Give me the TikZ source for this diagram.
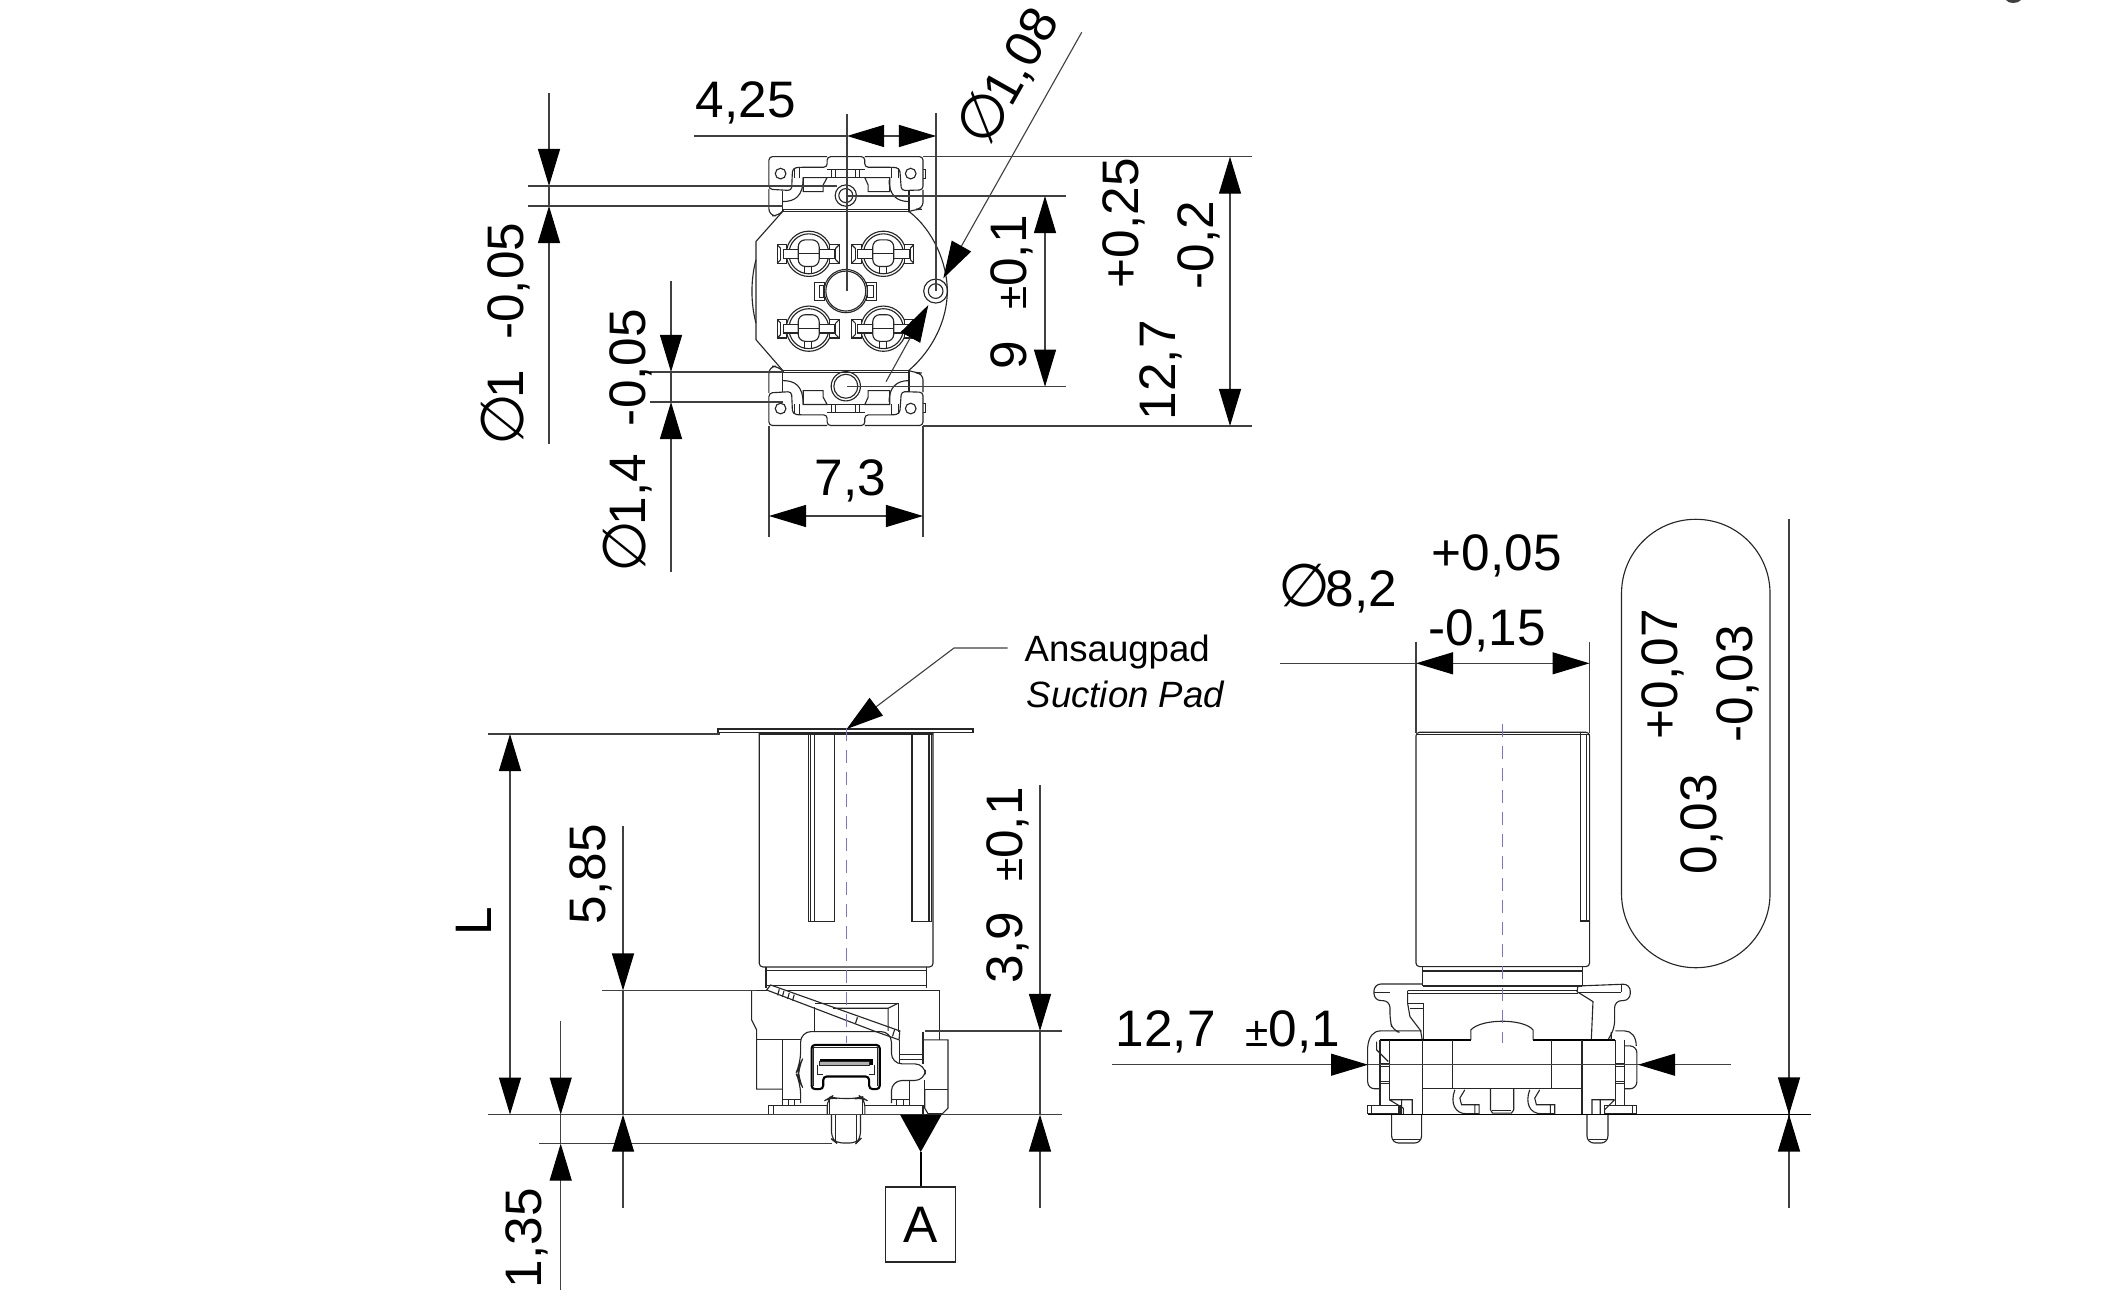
\documentclass[tikz,border=0pt]{standalone}
\usepackage{fontspec}
\setmainfont{Liberation Sans}
\newfontfamily\diafont{DejaVu Sans}
\usetikzlibrary{arrows.meta}
\newcommand{\dia}{\makebox[12.2pt]{\diafont\fontsize{17}{17}\selectfont ∅}}
\newcommand{\tolsign}{{\fontsize{12}{12}\selectfont ±}}
\newcommand{\gapx}[1]{\hspace{#1cm}}

\tikzset{
  >={Triangle[length=3.7mm,width=2.2mm,color=black,fill=black]},
  partline/.style={line width=0.32pt,black!85},
  dimline/.style={line width=0.32pt,black!75},
  dimtext/.style={inner sep=0pt,anchor=base west,font=\fontsize{14.6}{17}\selectfont},
  dimup/.style={dimtext,rotate=90},
  notetext/.style={inner sep=0pt,anchor=base west,font=\fontsize{10.4}{12}\selectfont},
  centerline/.style={line width=0.32pt,color={rgb,255:red,125;green,115;blue,200},dash pattern=on 1.3mm off 0.9mm},
  zoomed/.style={x=0.003333cm,y=-0.003333cm}
}

% one end of the top view, written from the middle line outwards
\newcommand{\clipend}{
\draw[partline,rounded corners=1pt] (322,80) -- (147,80) -- (147,178) -- (215,182) -- (218,115) -- (238,112) -- (322,112) -- (322,80) -- (435,80) -- (435,112) -- (520,112) -- (540,115) -- (545,182) -- (610,180) -- (610,80) -- (435,80);
\draw[partline] (322,118) -- (435,118);
\draw[partline] (335,118) -- (335,143) (348,118) -- (348,143) (408,118) -- (408,143) (420,118) -- (420,143);
\draw[partline] (250,143) -- (322,143) -- (310,165) -- (310,185) -- (250,185) -- cycle;
\draw[partline] (510,143) -- (435,143) -- (445,165) -- (445,185) -- (510,185) -- cycle;
\draw[partline] (322,143) -- (435,143);
\draw[partline] (188,215) .. controls (225,215) and (250,200) .. (250,143);
\draw[partline] (568,215) .. controls (530,215) and (508,195) .. (508,150);
\draw[partline] (225,115) -- (225,145) (240,115) -- (240,145) (515,115) -- (515,145) (535,115) -- (535,145);
\draw[partline,rounded corners=2pt] (147,178) -- (147,258) -- (178,258) -- (188,245);
\draw[partline] (188,182) -- (188,245) (568,182) -- (568,245);
\draw[partline,rounded corners=2pt] (610,180) -- (610,238) -- (585,238) -- (568,245);
\draw[partline] (188,240) -- (568,240) (188,245) -- (568,245);
\draw[partline] (182,131) circle[radius=16] (573,131) circle[radius=16];
\draw[partline] (610,118) -- (618,118) -- (618,145) -- (610,145);
}

\newcommand{\contactpad}{
\draw[partline] (0,0) circle[radius=68] (0,0) circle[radius=60];
\draw[partline,fill=white] (-95,-27) rectangle (-67,28) (63,-27) rectangle (91,28);
\draw[partline] (-95,-27) -- (-85,-17) (-95,28) -- (-85,18) (91,-27) -- (81,-17) (91,28) -- (81,18);
\draw[partline] (-85,-17) -- (-85,18) (81,-17) -- (81,18);
\draw[partline,fill=white] (-77,-12) rectangle (-32,13) (31,-12) rectangle (78,13);
\draw[partline,fill=white,rounded corners=2pt] (-32,-42) rectangle (31,38);
\draw[partline] (-32,0) -- (31,0) (-12,38) -- (-12,62) (8,38) -- (8,62);
}

\begin{document}
\begin{tikzpicture}[x=0.01cm,y=-0.01cm]
\useasboundingbox (0,0) rectangle (2119,1300);
\fill[black!75] (2006,0) .. controls (2008,4) and (2018,4) .. (2021,0) -- cycle;

% top view
\begin{scope}[shift={(720,130)},zoomed]
\foreach \flipy in {1,-1} {
  \begin{scope}[shift={(0,484)},yscale=\flipy,shift={(0,-484)}]
  \clipend
  \end{scope}
}
\draw[partline] (188,245) -- (108,335) -- (108,630) -- (188,722);
\draw[partline] (108,390) .. controls (92,450) and (92,520) .. (108,580);
\draw[partline] (568,245) .. controls (640,300) and (683,400) .. (683,484) .. controls (683,570) and (640,660) .. (568,722);
\foreach \padx/\pady in {267/372,491/372,267/597,491/597} {
  \begin{scope}[shift={(\padx,\pady)}]
  \contactpad
  \end{scope}
}
\draw[partline,fill=white] (285,458) rectangle (315,512) (298,468) rectangle (312,502);
\draw[partline,fill=white] (440,458) rectangle (470,512) (442,468) rectangle (460,502);
\draw[partline,fill=white] (378,484) circle[radius=65];
\draw[partline] (378,484) circle[radius=60];
\draw[partline] (378,197) circle[radius=32] (378,197) circle[radius=21];
\draw[partline] (378,770) circle[radius=44] (378,770) circle[radius=36];
\draw[partline] (648,484) circle[radius=36] (648,484) circle[radius=22];
\end{scope}

% dimensions of the top view
\draw[dimline] (528,186) -- (837,186);
\draw[dimline] (528,206) -- (783,206);
\draw[dimline,->] (549,93) -- (549,186);
\draw[dimline,->] (549,444) -- (549,206);
\draw[dimline] (549,186) -- (549,206);
\node[dimup] (diahole) at (523,442) {\dia1\gapx{0.30}-0,05};

\draw[dimline] (650,372) -- (783,372);
\draw[dimline] (650,402) -- (783,402);
\draw[dimline,->] (671,281) -- (671,372);
\draw[dimline,->] (671,572) -- (671,402);
\draw[dimline] (671,372) -- (671,402);
\node[dimup] (diapin) at (645,569) {\dia1,4\gapx{0.28}-0,05};

\draw[dimline] (847,114) -- (847,291);
\draw[dimline] (936,113) -- (936,291);
\draw[dimline] (694,136) -- (847,136);
\draw[dimline] (884,136) -- (899,136);
\draw[dimline,->] (884,136) -- (847,136);
\draw[dimline,->] (899,136) -- (936,136);
\node[dimtext] (pitchx) at (695,118) {4,25};

\draw[dimline] (769,426) -- (769,537);
\draw[dimline] (923,426) -- (923,537);
\draw[dimline,<->] (769,516) -- (923,516);
\node[dimtext] (widthtop) at (814,495.5) {7,3};

\draw[dimline,->] (1081.7,32.3) -- (943.3,278.3);
\draw[dimline,->] (886,381.7) -- (928.3,305);
\node[dimtext,rotate=60.6] (diaside) at (990,146) {\dia1,08};

\draw[dimline] (847,196) -- (1066,196);
\draw[dimline] (847,386.7) -- (1066,386.7);
\draw[dimline,<->] (1045,196) -- (1045,386.7);
\node[dimup] (pitchy) at (1026.7,370) {9\gapx{0.31}\tolsign0,1};

\draw[dimline] (923,156.7) -- (1251.7,156.7);
\draw[dimline] (923,426) -- (1251.7,426);
\draw[dimline,<->] (1230,156.7) -- (1230,426);
\node[dimup] (lengthtop) at (1175,421) {12,7};
\node[dimup] (tolplus) at (1138,289) {+0,25};
\node[dimup] (tolminus) at (1213,290) {-0,2};

% side view
\begin{scope}[shift={(720,720)},zoomed]
\draw[partline] (-6,27) rectangle (760,38);
\draw[partline,rounded corners=1pt] (118,38) -- (118,742) -- (640,742) -- (640,38);
\draw[partline] (118,42) -- (640,42);
\draw[partline] (265,42) -- (265,605) -- (345,605) -- (345,42);
\draw[partline] (272,42) -- (272,605) (285,42) -- (285,605);
\draw[partline] (577,42) -- (577,605) -- (635,605) -- (635,42);
\draw[partline] (628,42) -- (628,605);
\draw[partline] (138,742) -- (138,805) (620,742) -- (620,805);
\draw[partline] (138,753) -- (620,753);
\draw[partline] (138,798) -- (620,798);
\end{scope}
\begin{scope}[shift={(740,960)},zoomed]
\draw[partline] (35,92) -- (600,92) -- (600,240);
\draw[partline] (35,92) -- (35,180) -- (50,210) -- (50,388) -- (128,388);
\draw[partline] (50,240) -- (182,240);
\draw[partline] (128,240) -- (128,438);
\draw[partline,fill=white] (92,75) -- (480,213) -- (478,240) -- (402,213) -- (80,90) -- cycle;
\draw[partline] (118,88) -- (113,106) (132,93) -- (127,111) (148,99) -- (143,117) (163,104) -- (158,122) (353,172) -- (347,190) (465,208) -- (458,230);
\draw[partline] (225,142) -- (225,215) (225,130) -- (475,130) -- (475,215);
\draw[partline] (280,145) -- (445,145) -- (445,213) (445,145) -- (475,130);
\draw[partline,rounded corners=3pt] (182,430) -- (182,370) -- (175,355) -- (175,325) -- (182,310) -- (182,215) -- (455,215) -- (455,312) -- (557,312) -- (557,362) -- (455,362) -- (455,430);
\draw[partline] (480,240) -- (480,312) (550,215) -- (550,312);
\draw[partline] (550,240) -- (625,240) -- (625,445) -- (608,462) -- (565,462) -- (555,445) -- (555,388);
\draw[partline] (480,283) -- (550,283) (480,300) -- (550,300);
\draw[partline] (555,362) -- (555,388) (508,362) -- (508,438) (555,388) -- (625,388);
\draw[line width=0.6pt,rounded corners=1pt] (215,255) -- (420,255) -- (420,388) -- (388,388) -- (388,350) -- (250,350) -- (250,388) -- (215,388) -- cycle;
\draw[partline] (222,262) -- (412,262) -- (412,380) (222,262) -- (222,380);
\draw[line width=0.6pt] (240,302) -- (395,302) -- (395,315);
\draw[partline,fill=black!30] (240,306) -- (388,306) -- (388,316) -- (240,316) -- cycle;
\draw[partline] (232,314) -- (232,345) -- (250,345) (240,302) -- (240,314) (405,314) -- (405,345) -- (388,345);
\draw[partline] (130,418) -- (182,418) (145,418) -- (145,438) (165,418) -- (165,438);
\draw[partline] (455,418) -- (508,418) (470,418) -- (470,438) (490,418) -- (490,438);
\draw[partline] (85,438) -- (550,438) -- (550,463) (85,438) -- (85,463) (100,438) -- (100,463);
\draw[partline,fill=white,rounded corners=2pt] (262,463) -- (262,418) -- (272,412) -- (290,416) -- (350,416) -- (365,412) -- (375,418) -- (375,463);
\draw[partline,rounded corners=2pt] (275,463) -- (275,538) -- (290,550) -- (350,550) -- (362,538) -- (362,463);
\draw[partline] (288,463) -- (288,545) (350,463) -- (350,545) (270,463) -- (270,420) (368,463) -- (368,420);
\end{scope}
\draw[centerline] (846.7,728) -- (846.7,1043);

% dimensions of the side view
\draw[dimline] (488,734) -- (720,734);
\draw[dimline] (488,1114.6) -- (1062,1114.6);
\draw[dimline] (539,1143.6) -- (832,1143.6);
\draw[dimline] (602,990.5) -- (756,990.5);
\draw[dimline] (925,1031) -- (1062,1031);

\draw[dimline,<->] (510,734) -- (510,1114.6);
\node[dimup] (lengthL) at (491.7,936) {L};

\draw[dimline,->] (623,826) -- (623,990.5);
\draw[dimline] (623,990.5) -- (623,1114.6);
\draw[dimline,->] (623,1208) -- (623,1114.6);
\node[dimup] (heightflange) at (605,925) {5,85};

\draw[dimline,->] (560.7,1021) -- (560.7,1114.6);
\draw[dimline] (560.7,1114.6) -- (560.7,1143.6);
\draw[dimline,->] (560.7,1290) -- (560.7,1143.6);
\node[dimup] (pinlength) at (541.7,1289) {1,35};

\draw[dimline,->] (1040,785) -- (1040,1031);
\draw[dimline] (1040,1031) -- (1040,1114.6);
\draw[dimline,->] (1040,1208) -- (1040,1114.6);
\node[dimup] (heightbase) at (1022,984) {3,9\gapx{0.30}\tolsign0,1};

\node[notetext] (padde) at (1024,661) {Ansaugpad};
\node[notetext,font=\fontsize{10.4}{12}\selectfont\itshape] (paden) at (1026,707) {Suction Pad};
\coordinate (padleadstart) at (1007.7,648);
\coordinate (padleadknee) at (954,648);
\coordinate (padleadend) at (846.7,729);
\draw[dimline,->] (padleadstart) -- (padleadknee) -- (padleadend);

\node[draw,partline,text=black,minimum width=0.7cm,minimum height=0.75cm,inner sep=0pt,font=\fontsize{14.6}{17}\selectfont] (datumA) at (920.7,1224.5) {A};
\coordinate (datumtip) at (920.7,1152);
\fill (900,1114.6) -- (941.7,1114.6) -- (datumtip) -- cycle;
\draw[line width=0.5pt] (datumA.north) -- (datumtip);

% end view
\begin{scope}[shift={(1260,500)},x=0.003831cm,y=-0.003333cm]
\draw[partline,rounded corners=1pt] (407,698) -- (860,698) -- (860,1402) -- (407,1402) -- cycle;
\draw[partline] (407,704) -- (860,704);
\draw[partline] (836,698) -- (836,1265) -- (860,1265) (852,704) -- (852,1265);
\end{scope}
\begin{scope}[shift={(1360,960)},zoomed]
\draw[partline] (188,20) -- (188,78) (668,20) -- (668,78);
\draw[partline] (188,33) -- (668,33);
\draw[partline] (188,78) -- (668,78);
\draw[partline] (145,92) -- (655,92) (145,100) -- (655,100);
\draw[partline,rounded corners=2pt] (188,72) -- (42,72) -- (42,122) -- (90,122) -- (90,180) -- (98,212) -- (110,215);
\draw[partline] (42,97) -- (90,97);
\draw[partline] (143,92) -- (143,130) -- (150,170) -- (182,212) -- (187,240);
\draw[partline] (143,130) -- (192,130) -- (192,240) (150,145) -- (192,145);
\draw[partline,rounded corners=2pt] (655,78) -- (812,72) -- (812,122) -- (765,122) -- (765,205) -- (745,240);
\draw[partline] (655,78) -- (652,95) -- (700,125) -- (695,240);
\draw[partline] (655,97) -- (785,97) (785,72) -- (785,97);
\draw[line width=0.55pt] (60,240) -- (333,240) (520,240) -- (765,240);
\draw[partline] (333,240) -- (333,210) .. controls (350,192) and (390,184) .. (428,184) .. controls (465,184) and (505,192) .. (520,210) -- (520,240);
\draw[partline] (187,240) -- (187,462) (278,240) -- (278,387) (575,240) -- (575,387) (667,240) -- (667,462) (88,240) -- (88,420);
\draw[partline] (187,387) -- (667,387);
\draw[partline,rounded corners=2pt] (60,387) -- (23,387) -- (23,262);
\draw[partline] (23,262) .. controls (26,230) and (40,213) .. (62,213) -- (185,213);
\draw[partline] (50,245) -- (50,270) -- (85,305);
\draw[partline] (60,240) -- (60,438);
\draw[partline] (60,310) -- (88,310) (60,320) -- (88,320) (60,365) -- (88,365) (60,372) -- (88,372);
\draw[partline] (767,310) -- (795,310) (767,320) -- (795,320) (767,365) -- (795,365) (767,372) -- (795,372);
\draw[partline] (767,240) -- (767,438) (795,240) -- (795,438);
\draw[partline] (755,217) -- (755,240) (767,213) -- (795,213) .. controls (815,213) and (830,230) .. (830,258);
\draw[partline,rounded corners=2pt] (795,258) -- (832,258) -- (832,387) -- (795,387);
\draw[partline] (22,438) rectangle (120,462) (115,438) -- (115,462) (130,445) -- (130,462) (35,438) -- (35,462);
\draw[partline] (735,438) rectangle (832,462) (820,438) -- (820,462);
\draw[partline] (88,420) -- (157,420) -- (157,462) (125,420) -- (125,462) (88,420) -- (130,445);
\draw[partline] (765,420) -- (697,420) -- (697,462) (722,420) -- (722,462) (765,420) -- (735,450) -- (735,462);
\draw[partline,rounded corners=2pt] (95,463) -- (95,550) -- (185,550) -- (185,463);
\draw[partline] (100,540) -- (180,540);
\draw[partline,rounded corners=2pt] (682,463) -- (682,550) -- (745,550) -- (745,463);
\draw[partline] (688,540) -- (740,540);
\draw[partline] (285,390) .. controls (270,430) and (285,462) .. (320,462) -- (358,462) -- (358,435) -- (305,435) -- (300,415) -- (315,390) (345,435) -- (345,462);
\draw[partline] (510,390) .. controls (495,430) and (510,462) .. (545,462) -- (585,462) -- (585,435) -- (530,435) -- (525,415) -- (540,390) (572,435) -- (572,462);
\draw[partline] (392,387) -- (392,450) -- (398,460) -- (455,460) -- (462,450) -- (462,387);
\draw[partline] (398,452) -- (455,452);
\end{scope}
\draw[centerline] (1502.5,724) -- (1502.5,1043);

% dimensions of the end view
\draw[dimline] (1416,641.7) -- (1416,733) (1589.5,641.7) -- (1589.5,733);
\draw[dimline] (1280,663.3) -- (1416,663.3);
\draw[dimline,<->] (1416,663.3) -- (1589.5,663.3);
\node[dimtext] (diabody) at (1282,606.7) {\dia8,2};
\node[dimtext] (tolbodyplus) at (1431,570) {+0,05};
\node[dimtext] (tolbodyminus) at (1428,645) {-0,15};

\draw[partline,rounded corners=0.74cm] (1621.5,519.3) rectangle (1770,967.7);
\node[dimup] (tolpillplus) at (1677.6,740) {+0,07};
\node[dimup] (tolpillminus) at (1752,743) {-0,03};
\node[dimup] (tolpillval) at (1716,875) {0,03};

\draw[dimline] (1112,1064.7) -- (1731,1064.7);
\draw[dimline,->] (1112,1064.7) -- (1368,1064.7);
\draw[dimline,->] (1731,1064.7) -- (1638,1064.7);
\node[dimtext] (widthend) at (1115,1046.7) {12,7\gapx{0.30}\tolsign0,1};

\draw[dimline] (1789,519) -- (1789,1207.7);
\draw[line width=0.5pt] (1368,1114.5) -- (1811,1114.5);
\draw[dimline,->] (1789,1040) -- (1789,1114.5);
\draw[dimline,->] (1789,1190) -- (1789,1114.5);
\end{tikzpicture}
\end{document}
